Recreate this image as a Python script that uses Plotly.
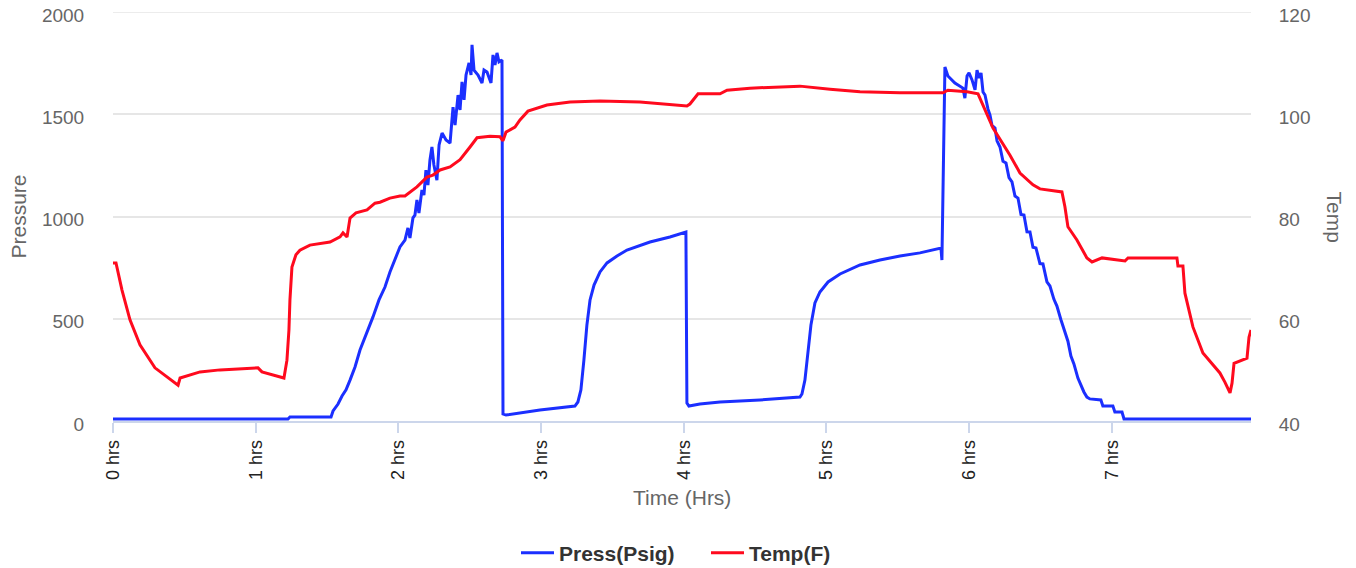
import plotly.graph_objects as go

# ---- data ----
temp_hrs = [0.000, 0.021, 0.063, 0.119, 0.189, 0.294, 0.456, 0.470, 0.610, 0.750, 1.016, 1.044,
            1.198, 1.219, 1.233, 1.240, 1.254, 1.282, 1.310, 1.380, 1.521, 1.591, 1.612, 1.640,
            1.661, 1.703, 1.780, 1.836, 1.871, 1.941, 2.011, 2.046, 2.130, 2.200, 2.242, 2.292,
            2.362, 2.432, 2.502, 2.551, 2.642, 2.712, 2.733, 2.754, 2.817, 2.852, 2.908, 3.041,
            3.203, 3.413, 3.693, 4.022, 4.043, 4.100, 4.254, 4.303, 4.464, 4.674, 4.814, 5.025,
            5.235, 5.515, 5.816, 5.851, 5.985, 6.062, 6.111, 6.167, 6.286, 6.356, 6.447, 6.496,
            6.650, 6.671, 6.692, 6.755, 6.825, 6.861, 6.931, 7.092, 7.113, 7.456, 7.463, 7.498,
            7.512, 7.568, 7.638, 7.757, 7.792, 7.828, 7.842, 7.856, 7.947, 7.961, 7.975]
temp_f = [70.9, 70.9, 65.6, 59.8, 54.9, 50.4, 47.0, 48.4, 49.6, 50.0, 50.4, 49.6,
          48.4, 51.9, 57.8, 63.7, 70.1, 72.5, 73.4, 74.4, 75.0, 76.0, 76.8, 76.0,
          79.7, 80.7, 81.3, 82.6, 82.8, 83.6, 84.0, 84.0, 85.8, 87.7, 88.1, 89.1,
          89.7, 91.1, 93.6, 95.4, 95.7, 95.6, 94.8, 96.5, 97.5, 98.9, 100.6, 101.8,
          102.4, 102.6, 102.4, 101.6, 102.0, 104.0, 104.0, 104.7, 105.1, 105.3, 105.5, 104.9,
          104.4, 104.2, 104.2, 104.7, 104.4, 104.0, 100.8, 97.3, 92.0, 88.5, 86.2, 85.4,
          84.8, 81.9, 78.0, 75.4, 71.9, 71.1, 71.9, 71.3, 71.9, 71.9, 70.3, 70.3,
          65.0, 58.4, 53.3, 49.4, 47.6, 45.5, 47.4, 51.3, 52.3, 56.4, 57.8]

press_hrs = [0.000, 1.226, 1.240, 1.528, 1.542, 1.563, 1.577, 1.605, 1.633, 1.661, 1.696, 1.731,
             1.773, 1.822, 1.864, 1.906, 1.941, 1.976, 2.011, 2.046, 2.067, 2.081, 2.102, 2.116,
             2.130, 2.144, 2.165, 2.179,
             2.193, 2.207, 2.221, 2.235, 2.249, 2.270, 2.285, 2.306, 2.334, 2.362, 2.383, 2.397,
             2.418, 2.432, 2.446, 2.460, 2.474, 2.495, 2.509, 2.516, 2.530, 2.558, 2.586, 2.600,
             2.621, 2.649, 2.663, 2.677, 2.691, 2.705, 2.726,
             2.733, 2.754, 2.992, 3.237, 3.258, 3.279, 3.300,
             3.321, 3.343, 3.371, 3.413, 3.462, 3.532, 3.602, 3.763, 3.903, 4.015, 4.022, 4.036,
             4.113, 4.254, 4.534, 4.814, 4.828, 4.849, 4.870, 4.891, 4.919, 4.954, 5.011, 5.095,
             5.235, 5.375, 5.515, 5.655, 5.802, 5.809, 5.830, 5.851, 5.900, 5.956, 5.970,
             5.985, 5.999, 6.020, 6.041, 6.055, 6.069, 6.083, 6.097,
             6.111, 6.132, 6.146, 6.160, 6.181, 6.195, 6.216, 6.237, 6.258, 6.279, 6.300, 6.321,
             6.342, 6.363, 6.384, 6.405, 6.426, 6.447, 6.468, 6.496, 6.517, 6.545, 6.566, 6.594,
             6.615, 6.643, 6.664, 6.692, 6.713, 6.734, 6.762, 6.783, 6.804, 6.825, 6.846,
             6.923, 6.937, 7.007, 7.021, 7.071, 7.085, 7.975]
press_psig = [10, 10, 20, 20, 49, 68, 83, 122, 152, 200, 264, 347,
              421, 509, 592, 655, 729, 787, 851, 885, 944, 895, 993, 1007,
              1081, 1017, 1130, 1105,
              1227, 1154, 1276, 1340, 1252, 1178, 1350, 1408, 1374, 1359, 1535, 1447,
              1594, 1521, 1658, 1570, 1692, 1751, 1692, 1839, 1716, 1692, 1653, 1716,
              1707, 1653, 1790, 1741, 1800, 1756, 1765,
              34, 29, 54, 73, 93, 152, 298,
              469, 592, 665, 729, 773, 807, 836, 875, 900, 924, 88, 73,
              83, 93, 103, 117, 132, 200, 323, 469, 577, 631, 680, 719,
              763, 787, 807, 822, 846, 787, 1731, 1687, 1653, 1628, 1579,
              1687, 1702, 1668, 1619, 1716, 1677, 1702, 1609,
              1594, 1525, 1496, 1445, 1433, 1370, 1340, 1270, 1262, 1190, 1169, 1100,
              1090, 1010, 1007, 925, 924, 850, 846, 770, 768, 680, 660, 595,
              562, 495, 445, 390, 318, 279, 210, 171, 142, 117, 108,
              103, 73, 73, 44, 44, 10, 10]

hour_ticks = [0, 1, 2, 3, 4, 5, 6, 7]
hour_labels = ["0 hrs", "1 hrs", "2 hrs", "3 hrs", "4 hrs", "5 hrs", "6 hrs", "7 hrs"]
press_ticks = [0, 500, 1000, 1500, 2000]
temp_ticks = [40, 60, 80, 100, 120]

BLUE = "#1b2fff"
RED = "#ff0a1e"
GRID = "#e6e6e6"
FONT = "Liberation Sans, Arial, sans-serif"

# page body margin is removed (post_script below), so the figure fills the window
W, H = 1356, 568
L, T, R, B = 113, 12, 105, 147
pw = W - L - R
ph = H - T - B

fig = go.Figure()
fig.add_trace(go.Scatter(x=press_hrs, y=press_psig, mode="lines", name="<b>Press(Psig)</b>",
                         line=dict(color=BLUE, width=3), yaxis="y"))
fig.add_trace(go.Scatter(x=temp_hrs, y=temp_f, mode="lines", name="<b>Temp(F)</b>",
                         line=dict(color=RED, width=3), yaxis="y2"))

fig.update_layout(
    width=W, height=H,
    margin=dict(l=L, r=R, t=T, b=B, autoexpand=False),
    paper_bgcolor="white", plot_bgcolor="white",
    font=dict(family=FONT, color="#666666"),
    xaxis=dict(range=[0, 7.975], tickvals=hour_ticks, ticktext=hour_labels,
               tickangle=-90, tickfont=dict(size=18, color="#222222"),
               ticks="outside", ticklen=10, tickcolor="#ccd6eb", tickwidth=1.5,
               showgrid=False, showline=True, linecolor="#ccd6eb", linewidth=1.5,
               zeroline=False, automargin=False),
    yaxis=dict(range=[0, 2000], tickvals=press_ticks, tickfont=dict(size=19, color="#666666"),
               showgrid=True, gridcolor=GRID, gridwidth=1.5, zeroline=False,
               ticks="outside", ticklen=24, tickcolor="rgba(0,0,0,0)", showline=False,
               automargin=False, ticklabeloverflow="allow", ticklabelshift=3),
    yaxis2=dict(range=[40, 120], tickvals=temp_ticks, tickfont=dict(size=19, color="#666666"),
                overlaying="y", side="right", showgrid=False, zeroline=False,
                ticks="outside", ticklen=23, tickcolor="rgba(0,0,0,0)", showline=False,
                automargin=False, ticklabeloverflow="allow", ticklabelshift=3),
    legend=dict(orientation="h", x=(516 - L) / pw, xanchor="left",
                y=-(553 - (T + ph)) / ph, yanchor="middle",
                font=dict(size=21, color="#333333", family=FONT),
                itemwidth=33, entrywidth=142, entrywidthmode="pixels"),
    showlegend=True,
    shapes=[dict(type="line", xref="paper", yref="y", x0=0, x1=1,
                 y0=press_ticks[-1], y1=press_ticks[-1],
                 line=dict(color=GRID, width=1.5), layer="below")],
    annotations=[
        dict(text="Pressure", xref="paper", yref="paper",
             x=(18 - L) / pw, y=0.5,
             xanchor="center", yanchor="middle", textangle=-90, showarrow=False,
             font=dict(size=21, color="#666666")),
        dict(text="Temp", xref="paper", yref="paper",
             x=(1334 - L) / pw, y=0.5,
             xanchor="center", yanchor="middle", textangle=90, showarrow=False,
             font=dict(size=21, color="#666666")),
        dict(text="Time (Hrs)", xref="paper", yref="paper", x=0.5,
             y=-(497 - (T + ph)) / ph,
             xanchor="center", yanchor="middle", showarrow=False,
             font=dict(size=21, color="#666666")),
    ],
)

fig.write_html("out.html",
               config={"displayModeBar": False},
               post_script="document.body.style.margin='0';"
                           "document.body.style.overflow='hidden';")
